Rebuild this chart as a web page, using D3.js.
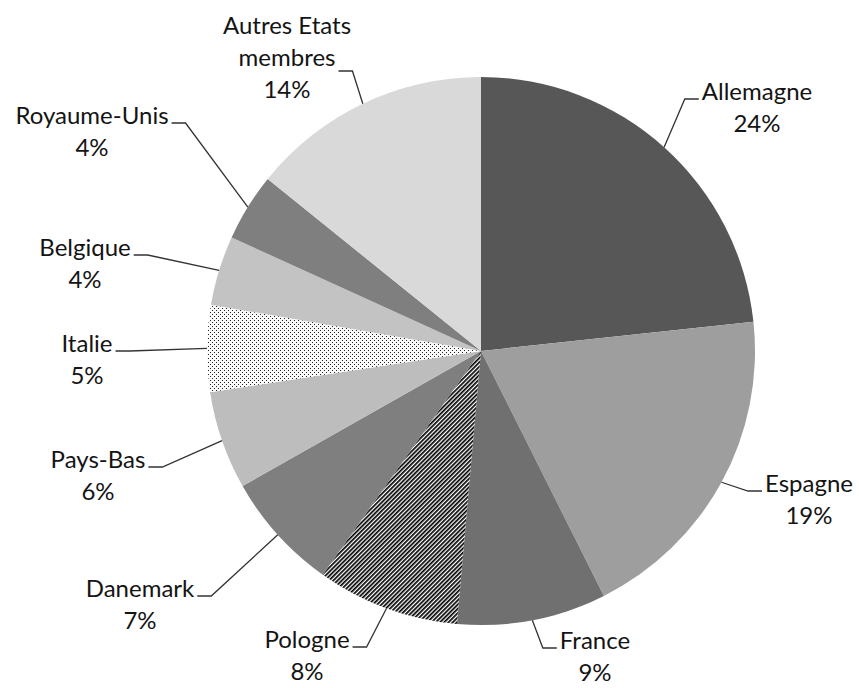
<!DOCTYPE html>
<html>
<head>
<meta charset="utf-8">
<script src="https://cdn.jsdelivr.net/npm/d3@7"></script>
<style>
  html, body { margin: 0; padding: 0; background: #fff; }
  svg { display: block; }
</style>
</head>
<body>
<div id="chart"></div>
<script>
// slice shares (angles), printed labels as shown
const countries = ['Allemagne', 'Espagne', 'France', 'Pologne', 'Danemark',
  'Pays-Bas', 'Italie', 'Belgique', 'Royaume-Unis', 'Autres Etats\nmembres']
const shares = [23.3, 19.3, 8.8, 8.4, 7.0, 5.8, 5.1, 4.1, 4.0, 14.2]
const pctLabels = ['24%', '19%', '9%', '8%', '7%', '6%', '5%', '4%', '4%', '14%']

// styling / layout
const fills = ['#575757', '#9e9e9e', '#707070', 'url(#hatch)', '#7f7f7f',
  '#bdbdbd', 'url(#dots)', '#c3c3c3', '#7f7f7f', '#d9d9d9']
const labelAt = [[757, 100], [809, 492], [595, 649], [307, 648], [140, 597],
  [98, 468], [87, 352], [85, 256], [92, 124], [287, 34]]

const w = 859, h = 688
const cx = 481, cy = 351, r = 274
const fontSize = 24, lineH = 32

const svg = d3.select('#chart').append('svg')
  .attr('width', w)
  .attr('height', h)
  .style('font-family', 'Lato, "Open Sans", sans-serif')
  .style('font-size', fontSize + 'px')

const defs = svg.append('defs')

const hatch = defs.append('pattern')
  .attr('id', 'hatch')
  .attr('patternUnits', 'userSpaceOnUse')
  .attr('width', 3)
  .attr('height', 3)
  .attr('patternTransform', 'rotate(45)')
hatch.append('rect').attr('width', 3).attr('height', 3).attr('fill', '#fff')
hatch.append('rect').attr('width', 1.7).attr('height', 3).attr('fill', '#000')

const dots = defs.append('pattern')
  .attr('id', 'dots')
  .attr('patternUnits', 'userSpaceOnUse')
  .attr('width', 4)
  .attr('height', 4)
dots.append('rect').attr('width', 4).attr('height', 4).attr('fill', '#fafafa')
dots.append('rect').attr('x', 1).attr('y', 1).attr('width', 1).attr('height', 1).attr('fill', '#222')
dots.append('rect').attr('x', 3).attr('y', 3).attr('width', 1).attr('height', 1).attr('fill', '#222')

const data = countries.map((name, i) => ({
  name, share: shares[i], pct: pctLabels[i], fill: fills[i], at: labelAt[i]
}))

const pie = d3.pie().value(d => d.share).sort(null)
const arcs = pie(data)

const arc = d3.arc().innerRadius(0).outerRadius(r)
const edge = d3.arc().innerRadius(r).outerRadius(r)

const g = svg.append('g').attr('transform', `translate(${cx}, ${cy})`)

g.selectAll('path')
  .data(arcs)
  .join('path')
    .attr('d', arc)
    .attr('fill', d => d.data.fill)

// labels
const labels = svg.append('g')
  .attr('fill', '#141414')
  .attr('text-anchor', 'middle')

labels.selectAll('text')
  .data(arcs)
  .join('text')
    .attr('x', d => d.data.at[0])
    .attr('y', d => d.data.at[1])
    .each(function (d) {
      const lines = d.data.name.split('\n').concat(d.data.pct)
      d3.select(this).selectAll('tspan')
        .data(lines)
        .join('tspan')
          .attr('x', d.data.at[0])
          .attr('dy', (l, i) => i === 0 ? 0 : lineH)
          .text(l => l)
    })

// leader lines: from slice edge at mid angle to an elbow beside the label
const leaders = svg.append('g')
  .attr('fill', 'none')
  .attr('stroke', '#333')
  .attr('stroke-width', 1.3)

labels.selectAll('text').each(function (d) {
  const nameLines = d.data.name.split('\n').length
  const spans = d3.select(this).selectAll('tspan').nodes()
  const nameSpan = spans[nameLines - 1]
  const halfW = nameSpan.getComputedTextLength() / 2
  const [ax, ay] = edge.centroid(d)
  const anchor = [ax + cx, ay + cy]
  const ly = d.data.at[1] + (nameLines - 1) * lineH - 1 + (nameLines > 1 ? 6 : 0)
  const side = d.data.at[0] > anchor[0] ? -1 : 1
  const endX = d.data.at[0] + side * (halfW + 3)
  const elbowX = endX + side * 14
  leaders.append('path')
    .attr('d', d3.line()([anchor, [elbowX, ly], [endX, ly]]))
})
</script>
</body>
</html>
